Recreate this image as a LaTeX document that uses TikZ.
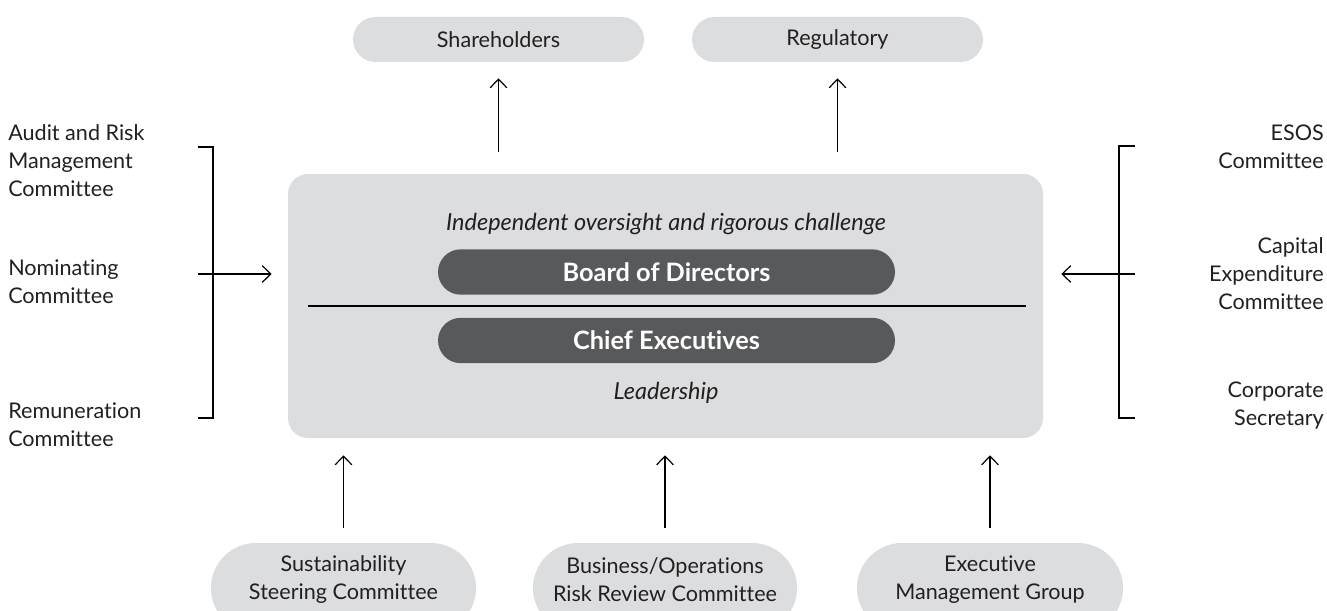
\documentclass[tikz,border=0pt]{standalone}
\usepackage{fontspec}
\setmainfont{Lato}[Ligatures=NoCommon]
\usetikzlibrary{shapes.misc,arrows.meta}
\definecolor{boxgray}{HTML}{DCDDDF}
\definecolor{darkpill}{HTML}{58595B}
\definecolor{txt}{HTML}{231F20}
\begin{document}
\begin{tikzpicture}[x=0.75pt,y=-0.75pt,
 pill/.style={rounded rectangle, fill=boxgray, inner sep=0pt, text=txt, font=\fontsize{16.2}{21}\selectfont, align=center},
 darkp/.style={rounded rectangle, fill=darkpill, text=white, inner sep=0pt, minimum width=342.75pt, minimum height=34pt, font=\fontsize{19}{20}\bfseries\selectfont},
 lbl/.style={text=txt, font=\fontsize{16.2}{21}\selectfont, inner sep=0pt},
 itl/.style={text=txt, font=\fontsize{17.6}{21}\itshape\selectfont, inner sep=0pt},
 arr/.style={-{Straight Barb[length=6.5pt,width=12.5pt]}, line width=0.9pt, color=black},
 brk/.style={line width=0.9pt, color=black}
]
\useasboundingbox (0,0) rectangle (1327,610);
\clip (0,0) rectangle (1327,610);

% main box
\node[fill=boxgray, rounded corners=15pt, minimum width=566.25pt, minimum height=198pt, inner sep=0pt] (main) at (665.5,306) {};
\node[itl] (oversight) at (666,224) {Independent oversight and rigorous challenge};
\node[darkp] (bod) at (666.5,272) {Board of Directors};
\draw[brk] (308,306) -- (1026,306);
\node[darkp] (ce) at (666.5,340.5) {Chief Executives};
\node[itl] (lead) at (666,393) {Leadership};

% top pills
\node[pill, minimum width=218.25pt, minimum height=33.75pt] (sh) at (498.5,39.5) {Shareholders};
\node[pill, minimum width=218.25pt, minimum height=33.75pt] (reg) at (837.5,39.5) {Regulatory};
\draw[arr, shorten <=16.5pt, shorten >=12pt] (main.north -| sh.south) -- (sh.south);
\draw[arr, shorten <=16.5pt, shorten >=12pt] (main.north -| reg.south) -- (reg.south);

% bottom pills
\node[pill, minimum width=198.75pt, minimum height=67.5pt] (ssc) at (343.5,588) {};
\node[pill, minimum width=198pt, minimum height=67.5pt] (brc) at (665,588) {};
\node[pill, minimum width=199.5pt, minimum height=67.5pt] (emg) at (990,588) {};
\node[lbl, align=center] (ssct) at (343.5,580) {Sustainability\\Steering Committee};
\node[lbl, align=center] (brct) at (665,580) {Business/Operations\\Risk Review Committee};
\node[lbl, align=center] (emgt) at (990,580) {Executive\\Management Group};
\draw[arr, shorten <=11.25pt, shorten >=12.75pt] (ssc.north) -- (ssc.north |- main.south);
\draw[arr, shorten <=11.25pt, shorten >=12.75pt] (brc.north) -- (brc.north |- main.south);
\draw[arr, shorten <=11.25pt, shorten >=12.75pt] (emg.north) -- (emg.north |- main.south);

% left committees
\node[lbl, align=left, anchor=west] (arm) at (8,161) {Audit and Risk\\Management\\Committee};
\node[lbl, align=left, anchor=west] (nom) at (8,282) {Nominating\\Committee};
\node[lbl, align=left, anchor=west] (rem) at (8,425) {Remuneration\\Committee};
\coordinate (lin) at (198,274);
\draw[brk] (198,147) -- (213,147) -- (213,418) -- (198,418);
\draw[arr, shorten >=12pt] (lin) -- (lin -| main.west);

% right committees
\node[lbl, align=right, anchor=east] (esos) at (1324,147) {ESOS\\Committee};
\node[lbl, align=right, anchor=east] (cap) at (1324,274) {Capital\\Expenditure\\Committee};
\node[lbl, align=right, anchor=east] (cs) at (1324,406) {Corporate\\Secretary};
\coordinate (rin) at (1135,274);
\draw[brk] (1135,146) -- (1119,146) -- (1119,418) -- (1135,418);
\draw[arr, shorten >=13.5pt] (rin) -- (rin -| main.east);
\end{tikzpicture}
\end{document}
